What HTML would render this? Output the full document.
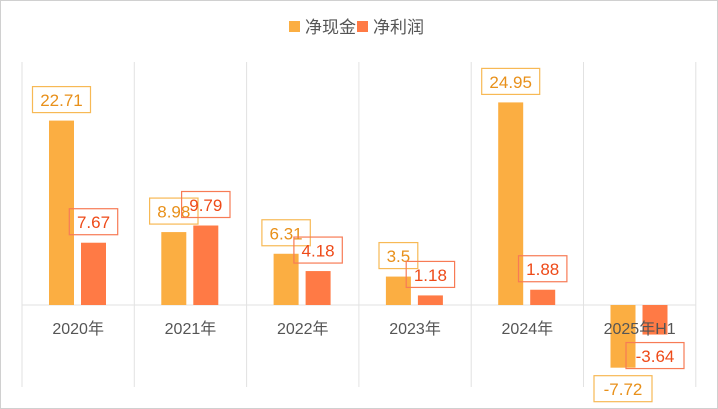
<!DOCTYPE html>
<html><head><meta charset="utf-8"><style>
body{margin:0;background:#fff;}
svg{display:block;font-family:"Liberation Sans","Noto Sans CJK SC",sans-serif;}
</style></head><body>
<svg id="c" width="718" height="409">
<rect x="0.5" y="0.5" width="717" height="408" fill="#fff" stroke="#d0d0d0"/>
<g>
<rect x="289" y="21" width="11" height="11" fill="#FBAE42"/>
<text x="305" y="33" font-size="17" fill="#555">净现金</text>
<rect x="357" y="21" width="11" height="11" fill="#FF7A45"/>
<text x="373" y="33" font-size="17" fill="#555">净利润</text>
</g>
<g id="grid"></g><g id="bars"></g><g id="labels"></g>
</svg>
<script>
const categories=["2020年","2021年","2022年","2023年","2024年","2025年H1"];
const cashValues=[22.71,8.98,6.31,3.5,24.95,-7.72];
const profitValues=[7.67,9.79,4.18,1.18,1.88,-3.64];
const NS="http://www.w3.org/2000/svg";
const x0=22,cw=112.3,zeroY=305,ppu=8.12;
function xCat(i){return x0+i*cw;}
function yVal(v){return zeroY-v*ppu;}
function mk(t,a,p){const e=document.createElementNS(NS,t);for(const k in a)e.setAttribute(k,a[k]);p.appendChild(e);return e;}
const grid=document.getElementById('grid'),bars=document.getElementById('bars'),labels=document.getElementById('labels');
for(let i=0;i<=6;i++){
 const l=mk('line',{x1:xCat(i),x2:xCat(i),y1:62,y2:387,stroke:'#e2e2e2'},grid);
 
 
}
const zl=mk('line',{x1:x0,x2:xCat(6),y1:zeroY,y2:zeroY,stroke:'#e2e2e2'},grid);


const series=[{vals:cashValues,off:27,fill:'#FBAE42',tc:'#E8901A',bc:'#F7B955',n:'cash'},{vals:profitValues,off:59,fill:'#FF7A45',tc:'#EE4A18',bc:'#F77B55',n:'profit'}];
categories.forEach((c,i)=>{
 const t=mk('text',{x:xCat(i)+cw/2,y:334,'font-size':16,fill:'#555','text-anchor':'middle'},labels);
 t.textContent=c;
 
 
});
series.forEach(s=>{
 s.vals.forEach((v,i)=>{
  const bx=xCat(i)+s.off,w=25,y1=yVal(Math.max(v,0)),y2=yVal(Math.min(v,0));
  const r=mk('rect',{x:bx,y:y1,width:w,height:y2-y1,fill:s.fill},bars);
  
  
  const txt=String(v);const bw=txt.length*9.6+10,bh=26;
  const cx=bx+w/2;
  const by=v>=0?yVal(v)-8-bh:yVal(v)+8;
  const g=mk('g',{},labels);
  
  
  mk('rect',{x:cx-bw/2,y:by,width:bw,height:bh,fill:'none',stroke:s.bc,'stroke-width':1.2},g);
  const tt=mk('text',{x:cx,y:by+19.5,'font-size':17,fill:s.tc,'text-anchor':'middle'},g);
  tt.textContent=txt;
 });
});
</script>
</body></html>
